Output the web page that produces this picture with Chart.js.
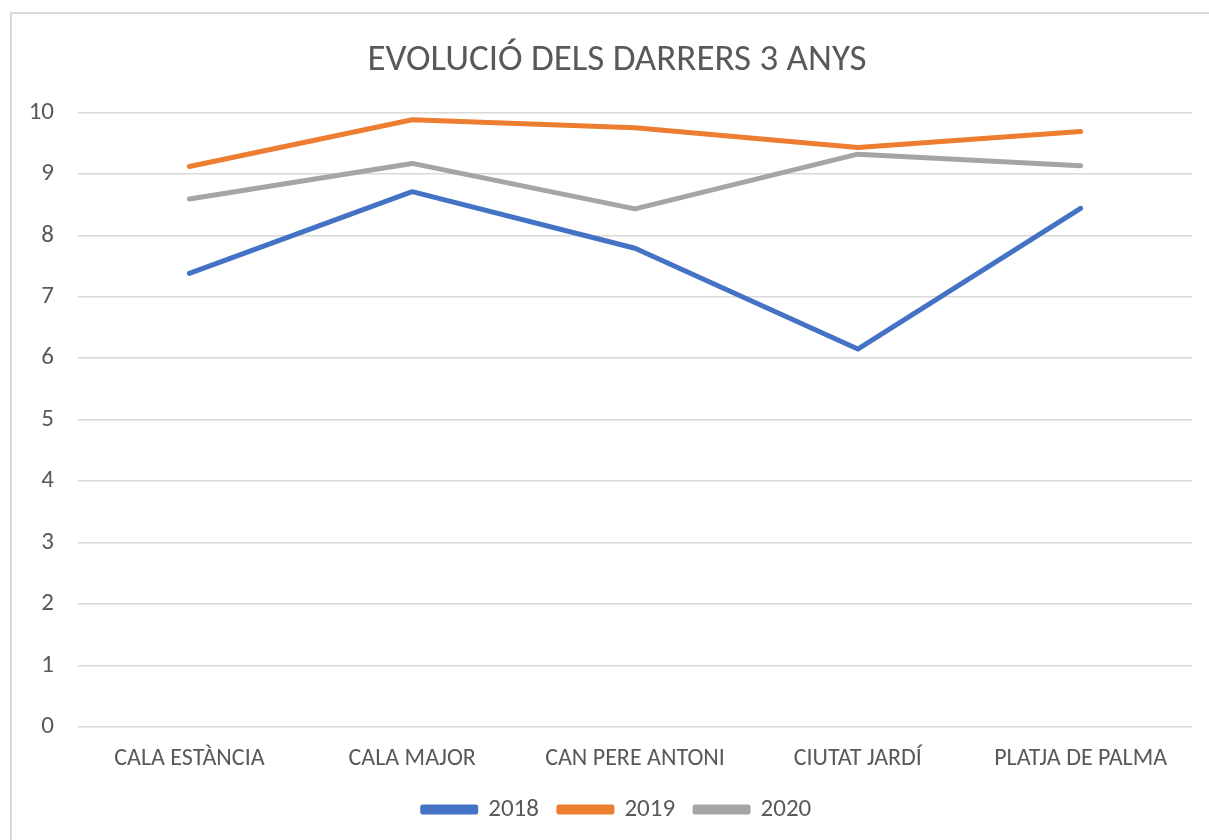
<!DOCTYPE html>
<html>
<head>
<meta charset="utf-8">
<script src="https://cdn.jsdelivr.net/npm/chart.js@4"></script>
<style>
  html, body { margin: 0; padding: 0; background: #fff; overflow: hidden; }
  #frame {
    position: absolute; left: 10px; top: 12px;
    width: 1220px; height: 840px;
    border: 2px solid #d9d9d9; box-sizing: border-box;
  }
  #wrap { position: absolute; left: 0; top: 0; width: 1197px; height: 826px; }
</style>
</head>
<body>
<div id="frame"><div id="wrap"><canvas id="myChart"></canvas></div></div>
<script>
const barris = ["CALA ESTÀNCIA", "CALA MAJOR", "CAN PERE ANTONI", "CIUTAT JARDÍ", "PLATJA DE PALMA"];
const valors2018 = [7.38, 8.71, 7.79, 6.15, 8.44];
const valors2019 = [9.12, 9.88, 9.75, 9.43, 9.69];
const valors2020 = [8.59, 9.17, 8.43, 9.32, 9.13];
const titol = "EVOLUCIÓ DELS DARRERS 3 ANYS";

const font = "Carlito, Lato, sans-serif";
const textColor = "#595959";

document.addEventListener("DOMContentLoaded", () => {
  const ctx = document.getElementById("myChart").getContext("2d");

  // una serie per any
  const serie = (label, data, color) => ({
    label: label,
    data: data,
    borderColor: color,
    backgroundColor: color,
    borderWidth: 5,
    borderCapStyle: "round",
    borderJoinStyle: "round",
    pointRadius: 0,
    tension: 0,
  });

  // les etiquetes de l'eix Y es retallen a l'ample de l'eix; l'eixamplem cap a l'esquerra
  const eixamplaEixY = {
    id: "eixamplaEixY",
    afterLayout(chart) {
      chart.scales.y.left = 0;
    },
  };

  new Chart(ctx, {
    type: "line",
    data: {
      labels: barris,
      datasets: [
        serie("2018", valors2018, "#4472c4"),
        serie("2019", valors2019, "#ed7d31"),
        serie("2020", valors2020, "#a5a5a5"),
      ],
    },
    plugins: [eixamplaEixY],
    options: {
      responsive: true,
      maintainAspectRatio: false,
      animation: false,
      // padding esquerre per centrar títol i llegenda com a l'original
      layout: { padding: { left: 30, right: 17, top: 0, bottom: 8 } },
      plugins: {
        title: {
          display: true,
          text: titol,
          color: textColor,
          font: { family: font, size: 37, weight: "normal" },
          padding: { top: 25, bottom: 29 },
        },
        legend: {
          position: "bottom",
          labels: {
            color: textColor,
            font: { family: font, size: 25 },
            boxWidth: 53,
            boxHeight: 5,
            padding: 20,
          },
        },
        tooltip: { enabled: false },
      },
      scales: {
        x: {
          offset: true,
          grid: { display: false, drawTicks: false },
          border: { display: false },
          ticks: {
            color: textColor,
            font: { family: font, size: 24 },
            padding: 18,
            maxRotation: 0,
          },
          afterFit: (scale) => { scale.height = 50; },
        },
        y: {
          min: 0,
          max: 10,
          ticks: {
            stepSize: 1,
            color: textColor,
            font: { family: font, size: 25 },
            padding: 24,
          },
          grid: { color: "#d9d9d9", lineWidth: 1.5, drawTicks: false },
          border: { display: false },
          afterFit: (scale) => { scale.width = 36; },
        },
      },
    },
  });
});
</script>
</body>
</html>
